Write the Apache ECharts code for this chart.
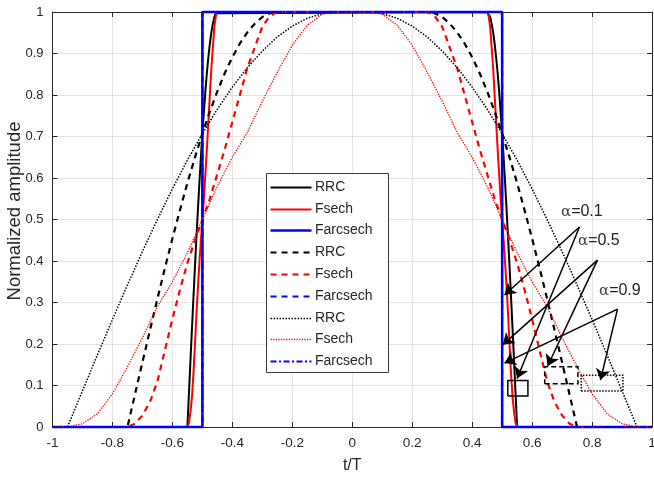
<!DOCTYPE html>
<html>
<head>
<meta charset="utf-8">
<script src="https://cdn.jsdelivr.net/npm/echarts@6/dist/echarts.min.js"></script>
<style>
  html, body { margin: 0; padding: 0; background: #fff; }
  #chart { width: 654px; height: 479px; }
</style>
</head>
<body>
<div id="chart"></div>
<script>
// Pulse spectra: each curve is symmetric about t/T = 0, so each one is stored
// as distance from the centre (|t/T|) and the amplitude at that distance.

// alpha = 0.1
const offsets01 = [0.45, 0.455, 0.46, 0.465, 0.47, 0.475, 0.48, 0.485, 0.49, 0.495, 0.5,
                   0.505, 0.51, 0.515, 0.52, 0.525, 0.53, 0.535, 0.54, 0.545, 0.55];
const rrc01   = [1, 0.997, 0.988, 0.972, 0.951, 0.924, 0.891, 0.853, 0.809, 0.760, 0.707,
                 0.649, 0.588, 0.522, 0.454, 0.383, 0.309, 0.233, 0.156, 0.078, 0];
const fsech01 = [1, 0.99, 0.965, 0.915, 0.865, 0.8, 0.735, 0.67, 0.61, 0.55, 0.5,
                 0.45, 0.395, 0.335, 0.27, 0.195, 0.125, 0.07, 0.035, 0.01, 0];

// alpha = 0.5
const offsets05 = [0.25, 0.275, 0.3, 0.325, 0.35, 0.375, 0.4, 0.425, 0.45, 0.475, 0.5,
                   0.525, 0.55, 0.575, 0.6, 0.625, 0.65, 0.675, 0.7, 0.725, 0.75];
const rrc05   = [1, 0.997, 0.988, 0.972, 0.951, 0.924, 0.891, 0.853, 0.809, 0.760, 0.707,
                 0.649, 0.588, 0.522, 0.454, 0.383, 0.309, 0.233, 0.156, 0.078, 0];
const fsech05 = [1, 0.99, 0.965, 0.915, 0.865, 0.8, 0.735, 0.67, 0.61, 0.55, 0.5,
                 0.45, 0.395, 0.33, 0.26, 0.185, 0.11, 0.06, 0.028, 0.008, 0];

// alpha = 0.9
const offsets09 = [0, 0.05, 0.1, 0.15, 0.2, 0.25, 0.3, 0.35, 0.4, 0.45, 0.5,
                   0.55, 0.6, 0.65, 0.7, 0.75, 0.8, 0.85, 0.9, 0.95];
const rrc09   = [1, 1, 0.996, 0.985, 0.966, 0.94, 0.906, 0.866, 0.819, 0.766, 0.707,
                 0.643, 0.574, 0.5, 0.423, 0.342, 0.259, 0.174, 0.087, 0];
const fsech09 = [1, 1, 0.995, 0.968, 0.92, 0.855, 0.785, 0.71, 0.65, 0.58, 0.5,
                 0.42, 0.35, 0.29, 0.215, 0.145, 0.08, 0.032, 0.008, 0];

// Farcsech (same brick-wall shape for all three roll-offs)
const offsetsFarc = [0.5, 0.5];
const farcsech    = [1, 0];

// Legend labels, in plotting order
const legendLabels = ['RRC', 'Fsech', 'Farcsech', 'RRC', 'Fsech', 'Farcsech', 'RRC', 'Fsech', 'Farcsech'];

// Axis ticks
const xTicks = { min: -1, max: 1, step: 0.2 };
const yTicks = { min: 0, max: 1, step: 0.1 };

// Annotation arrows [from, to] and marker boxes [x0, x1, y0, y1] in data units
const arrows01 = [[[0.758, 0.482], [0.508, 0.318]], [[0.758, 0.482], [0.550, 0.117]]];
const arrows05 = [[[0.818, 0.402], [0.502, 0.198]], [[0.818, 0.402], [0.652, 0.147]]];
const arrows09 = [[[0.885, 0.284], [0.508, 0.154]], [[0.885, 0.284], [0.828, 0.113]]];
const box01 = [0.519, 0.586, 0.075, 0.112];
const box05 = [0.642, 0.753, 0.104, 0.145];
const box09 = [0.764, 0.903, 0.087, 0.125];

// Build a full curve from -1 to 1 out of a half profile
function mirror(offsets, amps) {
  const pts = [[-1, 0]];
  for (let i = offsets.length - 1; i >= 0; i--) pts.push([-offsets[i], amps[i]]);
  for (let i = 0; i < offsets.length; i++) {
    if (offsets[i] === 0) continue;
    pts.push([offsets[i], amps[i]]);
  }
  pts.push([1, 0]);
  return pts;
}
function boxPath(b) {
  return [[b[0], b[2]], [b[1], b[2]], [b[1], b[3]], [b[0], b[3]], [b[0], b[2]]];
}

const FONT = 'Liberation Sans, Arial, sans-serif';
const AX = '#262626';

const curveDefs = [
  { off: offsets01, amp: rrc01,    color: '#000000', width: 2,   type: 'solid' },
  { off: offsets01, amp: fsech01,  color: '#ff0000', width: 2,   type: 'solid' },
  { off: offsetsFarc, amp: farcsech, color: '#0000ff', width: 2.5, type: 'solid' },
  { off: offsets05, amp: rrc05,    color: '#000000', width: 2.2, type: [6, 5] },
  { off: offsets05, amp: fsech05,  color: '#ff0000', width: 2.2, type: [6, 5] },
  { off: offsetsFarc, amp: farcsech, color: '#0000ff', width: 2, type: [6, 5] },
  { off: offsets09, amp: rrc09,    color: '#000000', width: 1.5, type: [1.5, 1.5] },
  { off: offsets09, amp: fsech09,  color: '#ff0000', width: 1.3, type: [1.3, 1.3] },
  { off: offsetsFarc, amp: farcsech, color: '#0000ff', width: 2, type: [6, 2.5, 2, 2.5] }
];

const series = curveDefs.map((c, i) => ({
  name: legendLabels[i] + '#' + i,
  type: 'line',
  data: mirror(c.off, c.amp),
  showSymbol: false,
  symbol: 'none',
  clip: false,
  animation: false,
  lineStyle: { color: c.color, width: c.width, type: c.type },
  itemStyle: { color: c.color }
}));

function arrowSeries(list) {
  return {
    type: 'lines',
    coordinateSystem: 'cartesian2d',
    symbol: ['none', 'arrow'],
    symbolSize: 11,
    animation: false,
    lineStyle: { color: '#000', width: 1.5, opacity: 1, curveness: 0 },
    data: list.map(a => ({ coords: a })),
    z: 5
  };
}
function boxSeries(b, type) {
  return {
    type: 'lines',
    coordinateSystem: 'cartesian2d',
    polyline: true,
    symbol: 'none',
    animation: false,
    lineStyle: { color: '#000', width: 1.5, opacity: 1, type: type },
    data: [{ coords: boxPath(b) }],
    z: 5
  };
}
series.push(arrowSeries(arrows01), arrowSeries(arrows05), arrowSeries(arrows09));
series.push(boxSeries(box01, 'solid'), boxSeries(box05, [5, 3]), boxSeries(box09, [1.5, 1.5]));

// Legend box drawn as graphics so each entry keeps its own line style
const LEG = { left: 266, top: 173, width: 122, height: 199, row0: 186.7, rowStep: 21.8,
              lineX0: 270.5, lineX1: 311.5, textX: 315 };
const legendGraphics = [{
  type: 'rect', z: 20,
  shape: { x: LEG.left + 0.5, y: LEG.top + 0.5, width: LEG.width, height: LEG.height },
  style: { fill: '#ffffff', stroke: '#3a3a3a', lineWidth: 1 }
}];
curveDefs.forEach((c, i) => {
  const y = Math.round(LEG.row0 + i * LEG.rowStep) + 0.5;
  legendGraphics.push({
    type: 'line', z: 21,
    shape: { x1: LEG.lineX0, y1: y, x2: LEG.lineX1, y2: y },
    style: { stroke: c.color, lineWidth: c.width, lineDash: c.type === 'solid' ? null : c.type }
  });
  legendGraphics.push({
    type: 'text', z: 21, x: LEG.textX, y: y,
    style: { text: legendLabels[i], fill: AX, font: '14px ' + FONT, textVerticalAlign: 'middle', verticalAlign: 'middle' }
  });
});

function alphaLabel(x, y, val) {
  return {
    type: 'text', left: x, top: y, z: 10,
    style: { text: '{a|α}{b|=' + val + '}', rich: {
      a: { fontFamily: 'DejaVu Serif', fontSize: 15, fill: '#444' },
      b: { fontFamily: FONT, fontSize: 16, fill: '#222' } } }
  };
}

const chart = echarts.init(document.getElementById('chart'), null, { renderer: 'canvas' });

const baseX = {
  type: 'value', min: xTicks.min, max: xTicks.max, interval: xTicks.step,
  axisLine: { show: true, onZero: false, lineStyle: { color: AX, width: 1 } },
  axisTick: { show: true, inside: true, length: 5, lineStyle: { color: AX } }
};
const baseY = {
  type: 'value', min: yTicks.min, max: yTicks.max, interval: yTicks.step,
  axisLine: { show: true, onZero: false, lineStyle: { color: AX, width: 1 } },
  axisTick: { show: true, inside: true, length: 5, lineStyle: { color: AX } }
};

chart.setOption({
  backgroundColor: '#ffffff',
  animation: false,
  grid: { left: 52.5, right: 2, top: 12, bottom: 52, containLabel: false, outerBoundsMode: 'none' },
  xAxis: [
    Object.assign({}, baseX, {
      position: 'bottom',
      name: 't/T', nameLocation: 'middle', nameGap: 31,
      nameTextStyle: { color: AX, fontSize: 16, fontFamily: FONT },
      axisLabel: { color: AX, fontSize: 13.5, fontFamily: FONT, margin: 9,
                   formatter: v => String(Math.round(v * 10) / 10) },
      splitLine: { show: true, lineStyle: { color: '#e3e3e3', width: 1 } }
    }),
    Object.assign({}, baseX, {
      position: 'top',
      axisLabel: { show: false },
      splitLine: { show: false }
    })
  ],
  yAxis: [
    Object.assign({}, baseY, {
      position: 'left',
      axisLabel: { color: AX, fontSize: 13, fontFamily: FONT, margin: 9,
                   formatter: v => String(Math.round(v * 10) / 10) },
      splitLine: { show: true, lineStyle: { color: '#e3e3e3', width: 1 } }
    }),
    Object.assign({}, baseY, {
      position: 'right',
      axisLabel: { show: false },
      splitLine: { show: false }
    })
  ],
  graphic: legendGraphics.concat([
    { type: 'text', x: 15, y: 211, rotation: Math.PI / 2, z: 10,
      style: { text: 'Normalized amplitude', fill: AX, font: '18.5px ' + FONT,
               align: 'center', verticalAlign: 'middle' } },
    alphaLabel(561, 204, '0.1'),
    alphaLabel(578, 233, '0.5'),
    alphaLabel(599, 283, '0.9')
  ]),
  series: series
});
</script>
</body>
</html>
